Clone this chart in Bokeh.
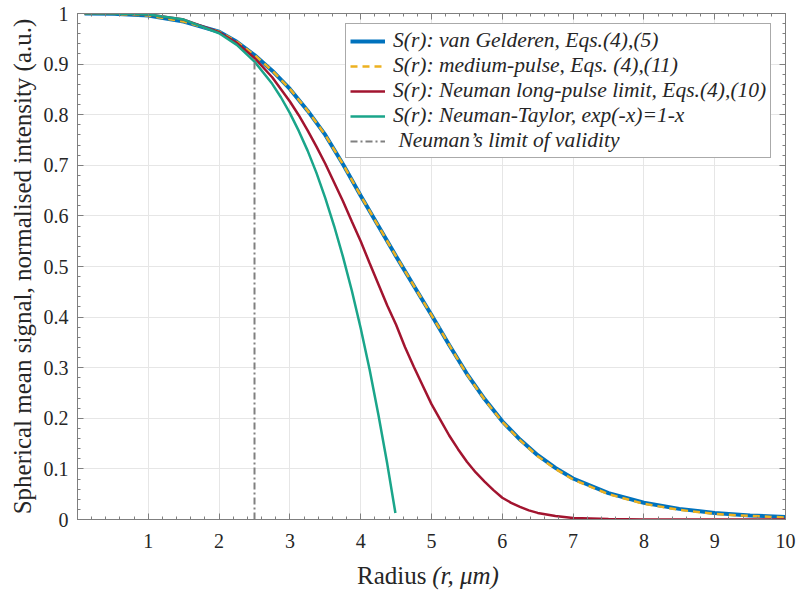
from bokeh.plotting import figure
from bokeh.models import FixedTicker, LinearAxis, CustomJSTickFormatter, Range1d
from bokeh.layouts import column
from bokeh.core.properties import value
from bokeh.embed import file_html
from bokeh.resources import INLINE

# ---------------- data ----------------
r_vg = [0.1, 0.5, 1.0, 1.5, 2.0, 2.25, 2.5, 2.75, 3.0, 3.25, 3.5, 3.75, 4.0, 4.25, 4.5,
        4.75, 5.0, 5.25, 5.5, 5.75, 6.0, 6.25, 6.5, 6.75, 7.0, 7.5, 8.0, 8.5, 9.0, 9.5, 10.0]
s_vg = [1.0, 0.9995, 0.996, 0.984, 0.964, 0.944, 0.918, 0.887, 0.851, 0.808, 0.760, 0.702,
        0.640, 0.580, 0.520, 0.462, 0.404, 0.345, 0.288, 0.238, 0.194, 0.158, 0.127, 0.102,
        0.081, 0.052, 0.033, 0.021, 0.013, 0.008, 0.005]

r_mp = r_vg
s_mp = [1.0, 0.9995, 0.996, 0.984, 0.964, 0.944, 0.918, 0.887, 0.851, 0.808, 0.760, 0.702,
        0.640, 0.580, 0.520, 0.462, 0.404, 0.345, 0.287, 0.237, 0.193, 0.157, 0.125, 0.100,
        0.079, 0.050, 0.031, 0.019, 0.011, 0.007, 0.004]

r_nl = [0.1, 0.5, 1.0, 1.5, 2.0, 2.25, 2.5, 2.75, 3.0, 3.125, 3.25, 3.375, 3.5, 3.625, 3.75,
        3.875, 4.0, 4.125, 4.25, 4.375, 4.5, 4.625, 4.75, 4.875, 5.0, 5.125, 5.25, 5.375, 5.5,
        5.625, 5.75, 5.875, 6.0, 6.125, 6.25, 6.375, 6.5, 6.75, 7.0, 7.5, 8.0, 9.0, 10.0]
s_nl = [1.0, 1.0, 0.998, 0.988, 0.963, 0.942, 0.912, 0.874, 0.826, 0.799, 0.769, 0.737,
        0.703, 0.666, 0.629, 0.589, 0.550, 0.507, 0.465, 0.423, 0.385, 0.341, 0.302, 0.265,
        0.228, 0.197, 0.166, 0.139, 0.114, 0.093, 0.075, 0.058, 0.043, 0.033, 0.025, 0.018,
        0.013, 0.007, 0.003, 0.001, 0.0, 0.0, 0.0]

r_nt = [0.1, 0.5, 1.0, 1.5, 2.0, 2.25, 2.5, 2.75, 2.875, 3.0, 3.125, 3.25, 3.375, 3.5, 3.625,
        3.75, 3.875, 4.0, 4.125, 4.25, 4.375, 4.49]
s_nt = [1.0, 1.0, 0.998, 0.988, 0.961, 0.938, 0.905, 0.861, 0.834, 0.803, 0.768, 0.729,
        0.685, 0.635, 0.580, 0.519, 0.452, 0.378, 0.297, 0.207, 0.110, 0.013]

r_valid = [2.5, 2.5]
s_valid = [0.0, 0.91]

x_ticks = [1, 2, 3, 4, 5, 6, 7, 8, 9, 10]
y_ticks = [0, 0.1, 0.2, 0.3, 0.4, 0.5, 0.6, 0.7, 0.8, 0.9, 1]
y_tick_labels = ["0", "0.1", "0.2", "0.3", "0.4", "0.5", "0.6", "0.7", "0.8", "0.9", "1"]

legend_labels = ["S(r): van Gelderen, Eqs.(4),(5)",
                 "S(r): medium-pulse, Eqs. (4),(11)",
                 "S(r): Neuman long-pulse limit, Eqs.(4),(10)",
                 "S(r): Neuman-Taylor, exp(-x)=1-x",
                 " Neuman\u2019s limit of validity"]
x_label_plain = "Radius"
x_label_italic = "(r, \u03bcm)"
y_label = "Spherical mean signal, normalised intensity (a.u.)"

FONT = "Liberation Serif"
TXT = "#262626"
AX = "#7f7f7f"

xr = Range1d(0, 10)
p = figure(frame_width=708, frame_height=506, output_backend="svg", toolbar_location=None,
           x_range=xr, y_range=(0, 1),
           min_border_left=77, min_border_right=14, min_border_top=13, min_border_bottom=39)

p.line(r_vg, s_vg, line_color="#0072BD", line_width=4, legend_label=legend_labels[0])
p.line(r_mp, s_mp, line_color="#EDB120", line_width=2.5, line_dash="7 5", legend_label=legend_labels[1])
p.line(r_nl, s_nl, line_color="#A2142F", line_width=2.5, legend_label=legend_labels[2])
p.line(r_nt, s_nt, line_color="#1AA58A", line_width=2.5, legend_label=legend_labels[3])
p.line(r_valid, s_valid, line_color="#808080", line_width=2, line_dash="7 3 2 3", legend_label=legend_labels[4])

minor_x = [i * 0.2 for i in range(51)]
minor_y = [i * 0.02 for i in range(51)]

p.xaxis.ticker = FixedTicker(ticks=x_ticks, minor_ticks=minor_x)
p.yaxis.ticker = FixedTicker(ticks=y_ticks, minor_ticks=minor_y)
p.yaxis.major_label_overrides = {t: l for t, l in zip(y_ticks, y_tick_labels)}

for ax in [p.xaxis[0], p.yaxis[0]]:
    ax.major_tick_in = 6
    ax.major_tick_out = 0
    ax.minor_tick_in = 3
    ax.minor_tick_out = 0
    ax.axis_line_color = AX
    ax.major_tick_line_color = AX
    ax.minor_tick_line_color = AX
    ax.major_label_text_font = FONT
    ax.major_label_text_font_size = "20px"
    ax.major_label_text_color = TXT
    ax.axis_label_text_font = FONT
    ax.axis_label_text_font_style = "normal"
    ax.axis_label_text_color = TXT
    ax.axis_label_text_font_size = "25px"

p.xaxis.major_label_standoff = 14
p.yaxis.major_label_standoff = 9
p.yaxis.axis_label = y_label
p.yaxis.axis_label_standoff = 5

# box ticks on top and right
for side in ["above", "right"]:
    ax = LinearAxis(ticker=FixedTicker(ticks=x_ticks if side == "above" else y_ticks,
                                       minor_ticks=minor_x if side == "above" else minor_y),
                    formatter=CustomJSTickFormatter(code="return ''"),
                    major_tick_in=6, major_tick_out=0, minor_tick_in=3, minor_tick_out=0,
                    axis_line_color=AX, major_tick_line_color=AX, minor_tick_line_color=AX,
                    major_label_standoff=0, major_label_text_font_size="1px")
    p.add_layout(ax, side)

p.xgrid.grid_line_color = "#e6e6e6"
p.ygrid.grid_line_color = "#e6e6e6"
p.outline_line_color = AX

lg = p.legend[0]
lg.location = (268, 361)
lg.label_text_font = FONT
lg.label_text_font_style = "italic"
lg.label_text_font_size = "21.5px"
lg.label_text_color = TXT
lg.label_height = 24
lg.glyph_height = 20
lg.glyph_width = 35
lg.spacing = 0
lg.padding = 4
lg.margin = 0
lg.label_standoff = 8
lg.border_line_color = "#555555"
lg.border_line_width = 1
lg.background_fill_alpha = 1

# strip below the plot carrying the x-axis title ("Radius" upright, "(r, μm)" italic),
# sharing the plot's x range so that it is centred under the axes
q = figure(frame_width=708, frame_height=34, output_backend="svg", toolbar_location=None,
           x_range=xr, y_range=(0, 34), x_axis_type=None, y_axis_type=None,
           min_border_left=77, min_border_right=14, min_border_top=0, min_border_bottom=0,
           outline_line_color=None)
q.grid.visible = False
q.text(x=[4.93], y=[17], text=[x_label_plain], text_font=value(FONT), text_font_size="25px",
       text_color=TXT, text_align="right", text_baseline="middle")
q.text(x=[5.01], y=[17], text=[x_label_italic], text_font=value(FONT), text_font_size="25px",
       text_font_style="italic", text_color=TXT, text_align="left", text_baseline="middle")

layout = column(p, q, spacing=0)
open("out.html", "w").write(file_html(layout, INLINE))
